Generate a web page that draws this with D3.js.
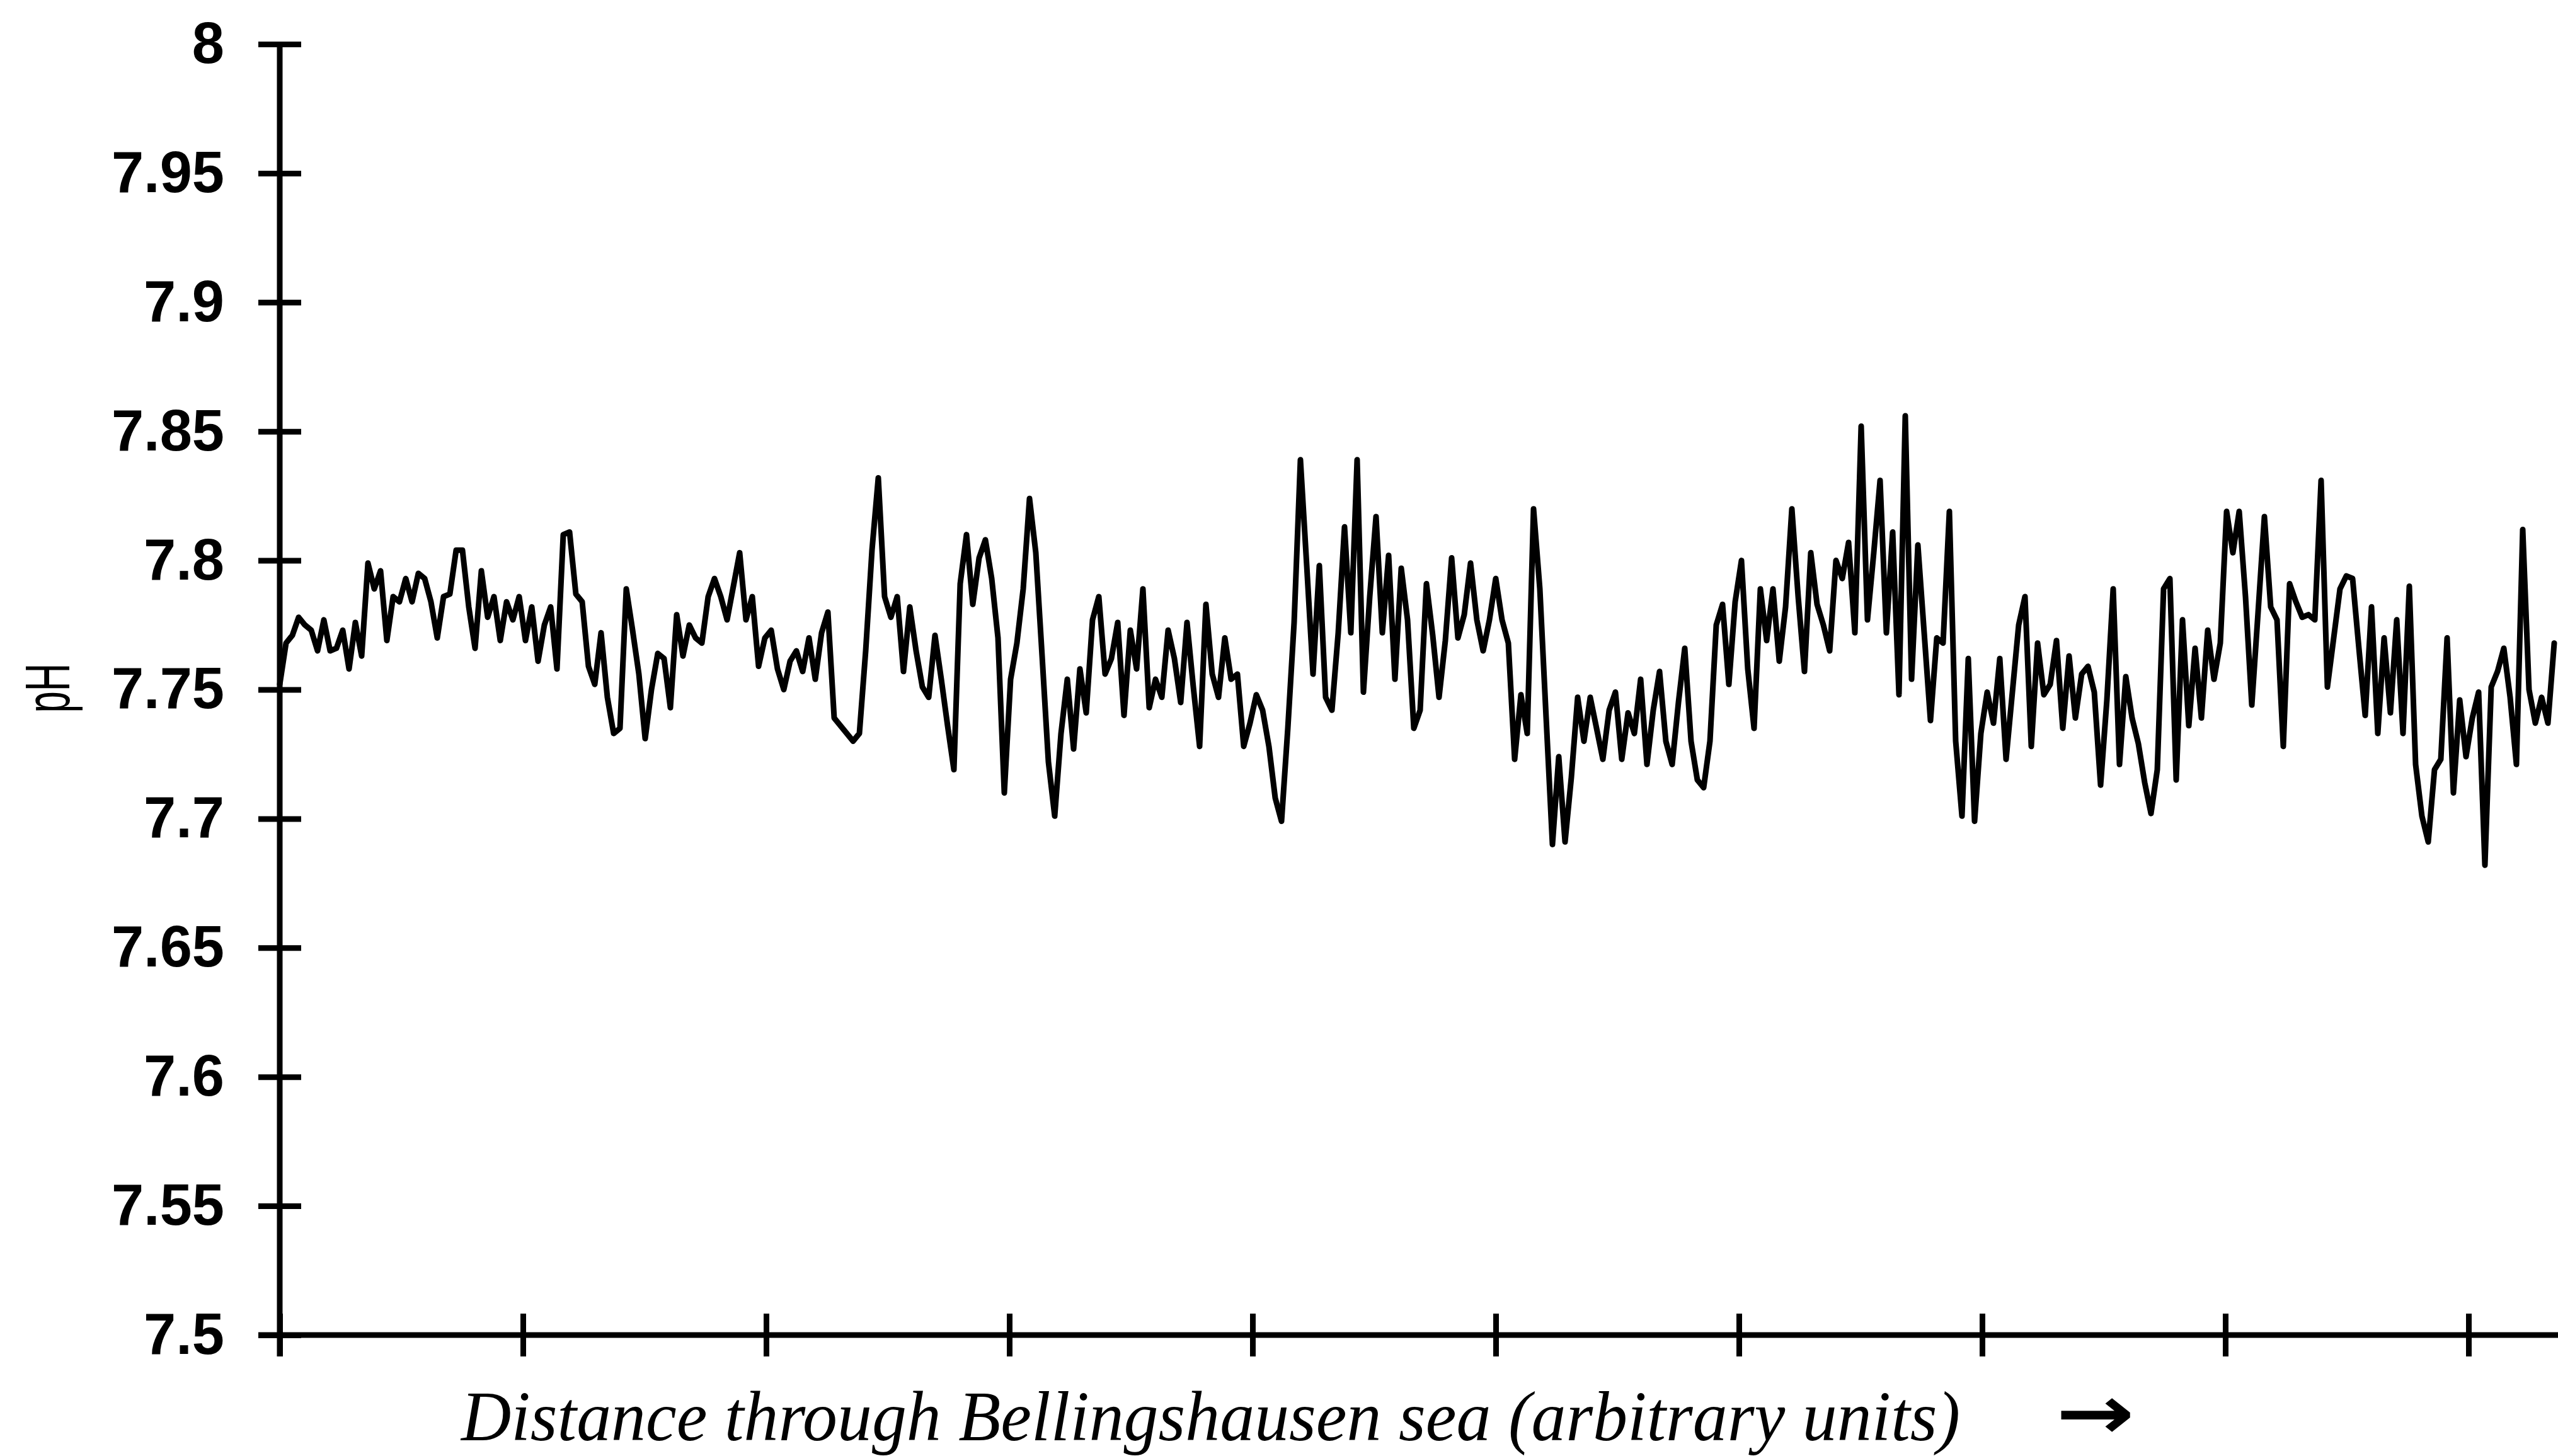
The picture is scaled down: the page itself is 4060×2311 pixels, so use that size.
<!DOCTYPE html>
<html>
<head>
<meta charset="utf-8">
<script src="https://cdn.jsdelivr.net/npm/d3@7"></script>
<style>
  html, body { margin: 0; padding: 0; background: #fff; }
  svg { display: block; }
</style>
</head>
<body>
<svg id="chart" width="4060" height="2311"></svg>
<script>
// pH record along the transect, one reading per sample step
const phValues = [
  7.752, 7.768, 7.771, 7.778, 7.775, 7.773, 7.765, 7.777, 7.765, 7.766,
  7.773, 7.758, 7.776, 7.763, 7.799, 7.789, 7.796, 7.769, 7.786, 7.784,
  7.793, 7.784, 7.795, 7.793, 7.784, 7.770, 7.786, 7.787, 7.804, 7.804,
  7.782, 7.766, 7.796, 7.778, 7.786, 7.769, 7.784, 7.777, 7.786, 7.769,
  7.782, 7.761, 7.775, 7.782, 7.758, 7.810, 7.811, 7.787, 7.784, 7.759,
  7.752, 7.772, 7.747, 7.733, 7.735, 7.789, 7.773, 7.756, 7.731, 7.750,
  7.764, 7.762, 7.743, 7.779, 7.763, 7.775, 7.770, 7.768, 7.786, 7.793,
  7.786, 7.777, 7.790, 7.803, 7.777, 7.786, 7.759, 7.770, 7.773, 7.758,
  7.750, 7.761, 7.765, 7.757, 7.770, 7.754, 7.772, 7.780, 7.739, 7.736,
  7.733, 7.730, 7.733, 7.765, 7.804, 7.832, 7.786, 7.778, 7.786, 7.757,
  7.782, 7.765, 7.751, 7.747, 7.771, 7.754, 7.736, 7.719, 7.791, 7.810,
  7.783, 7.801, 7.808, 7.793, 7.770, 7.710, 7.754, 7.768, 7.789, 7.824,
  7.803, 7.763, 7.722, 7.701, 7.733, 7.754, 7.727, 7.758, 7.741, 7.777,
  7.786, 7.756, 7.762, 7.776, 7.740, 7.773, 7.758, 7.789, 7.743, 7.754,
  7.747, 7.773, 7.762, 7.745, 7.776, 7.751, 7.728, 7.783, 7.756, 7.747,
  7.770, 7.754, 7.756, 7.728, 7.737, 7.748, 7.742, 7.728, 7.708, 7.699,
  7.735, 7.776, 7.839, 7.798, 7.756, 7.798, 7.747, 7.742, 7.772, 7.813,
  7.772, 7.839, 7.749, 7.786, 7.817, 7.772, 7.802, 7.754, 7.797, 7.777,
  7.735, 7.742, 7.791, 7.771, 7.747, 7.769, 7.801, 7.770, 7.779, 7.799,
  7.777, 7.765, 7.777, 7.793, 7.777, 7.768, 7.723, 7.748, 7.733, 7.820,
  7.789, 7.739, 7.690, 7.724, 7.691, 7.716, 7.747, 7.730, 7.747, 7.735,
  7.723, 7.742, 7.749, 7.723, 7.741, 7.733, 7.754, 7.721, 7.742, 7.757,
  7.730, 7.721, 7.745, 7.766, 7.730, 7.715, 7.712, 7.730, 7.775, 7.783,
  7.752, 7.784, 7.800, 7.758, 7.735, 7.789, 7.769, 7.789, 7.761, 7.782,
  7.820, 7.786, 7.757, 7.803, 7.783, 7.775, 7.765, 7.800, 7.793, 7.807,
  7.772, 7.852, 7.777, 7.803, 7.831, 7.772, 7.811, 7.748, 7.856, 7.754,
  7.806, 7.772, 7.738, 7.770, 7.768, 7.819, 7.730, 7.701, 7.762, 7.699,
  7.733, 7.749, 7.737, 7.762, 7.723, 7.749, 7.775, 7.786, 7.728, 7.768,
  7.748, 7.752, 7.769, 7.735, 7.763, 7.739, 7.756, 7.759, 7.749, 7.713,
  7.746, 7.789, 7.721, 7.755, 7.739, 7.729, 7.714, 7.702, 7.719, 7.789,
  7.793, 7.715, 7.777, 7.736, 7.766, 7.739, 7.773, 7.754, 7.768, 7.819,
  7.803, 7.819, 7.786, 7.744, 7.780, 7.817, 7.782, 7.777, 7.728, 7.791,
  7.784, 7.778, 7.779, 7.777, 7.831, 7.751, 7.770, 7.789, 7.794, 7.793,
  7.766, 7.740, 7.782, 7.733, 7.770, 7.741, 7.777, 7.733, 7.790, 7.721,
  7.701, 7.691, 7.719, 7.723, 7.770, 7.710, 7.746, 7.724, 7.739, 7.749,
  7.682, 7.751, 7.757, 7.766, 7.747, 7.721, 7.812, 7.750, 7.737, 7.747,
  7.737, 7.768
];

// Axis ticks
const yTickValues = [7.5, 7.55, 7.6, 7.65, 7.7, 7.75, 7.8, 7.85, 7.9, 7.95, 8];
const yTickLabels = ["7.5", "7.55", "7.6", "7.65", "7.7", "7.75", "7.8", "7.85", "7.9", "7.95", "8"];
const xTickValues = [0, 38.6, 77.2, 115.8, 154.4, 193.0, 231.6, 270.2, 308.8, 347.4];

// Titles
const yTitle = "pH";
const xTitle = "Distance through Bellingshausen sea (arbitrary units)";
const arrowGlyph = "\u2192";

const svg = d3.select("#chart");

const x = d3.scaleLinear().domain([0, 361.6]).range([444, 4060]);
const y = d3.scaleLinear().domain([7.5, 8]).range([2119, 70]);

const axisColor = "#000";
const axisWidth = 9;
const tickOut = 34, tickIn = 34;

// ---- y axis ----
const gy = svg.append("g")
  .attr("transform", `translate(${x(0)},0)`)
  .call(d3.axisLeft(y)
    .tickValues(yTickValues)
    .tickFormat((d, i) => yTickLabels[i])
    .tickSize(tickOut)
    .tickPadding(54));
gy.select(".domain").remove();
gy.selectAll(".tick line")
  .attr("x1", -tickOut).attr("x2", tickIn)
  .attr("stroke", axisColor).attr("stroke-width", axisWidth);
gy.selectAll(".tick text")
  .attr("font-family", "'Liberation Sans', Arial, sans-serif")
  .attr("font-weight", "bold")
  .attr("font-size", 92)
  .attr("fill", "#000");
gy.append("line")
  .attr("x1", 0).attr("x2", 0)
  .attr("y1", y(8)).attr("y2", y(7.5) + tickOut)
  .attr("stroke", axisColor).attr("stroke-width", axisWidth);

// ---- x axis ----
const gx = svg.append("g")
  .attr("transform", `translate(0,${y(7.5)})`)
  .call(d3.axisBottom(x)
    .tickValues(xTickValues)
    .tickFormat(""));
gx.select(".domain").remove();
gx.selectAll(".tick line")
  .attr("y1", -tickIn).attr("y2", tickOut)
  .attr("stroke", axisColor).attr("stroke-width", axisWidth);
gx.append("line")
  .attr("x1", x(0) - tickOut).attr("x2", x.range()[1])
  .attr("y1", 0).attr("y2", 0)
  .attr("stroke", axisColor).attr("stroke-width", axisWidth);

// ---- pH trace ----
const line = d3.line()
  .x((d, i) => x(i))
  .y(d => y(d));
svg.append("path")
  .datum(phValues)
  .attr("d", line)
  .attr("fill", "none")
  .attr("stroke", "#000")
  .attr("stroke-width", 9)
  .attr("stroke-linejoin", "round")
  .attr("stroke-linecap", "round");

// ---- titles ----
svg.append("text")
  .attr("transform", "translate(110,1092) rotate(-90)")
  .attr("text-anchor", "middle")
  .attr("font-family", "'Liberation Sans', Arial, sans-serif")
  .attr("font-size", 100)
  .attr("textLength", 79)
  .attr("lengthAdjust", "spacingAndGlyphs")
  .attr("fill", "#000")
  .text(yTitle);

svg.append("text")
  .attr("x", 732)
  .attr("y", 2286)
  .attr("font-family", "'Liberation Serif', 'Times New Roman', serif")
  .attr("font-style", "italic")
  .attr("font-size", 112)
  .attr("textLength", 2379)
  .attr("lengthAdjust", "spacingAndGlyphs")
  .attr("fill", "#000")
  .text(xTitle);

svg.append("text")
  .attr("x", 3263)
  .attr("y", 2242)
  .attr("dominant-baseline", "central")
  .attr("font-family", "'DejaVu Sans', sans-serif")
  .attr("font-weight", "bold")
  .attr("font-size", 118)
  .attr("textLength", 125)
  .attr("lengthAdjust", "spacingAndGlyphs")
  .attr("fill", "#000")
  .text(arrowGlyph);
</script>
</body>
</html>
